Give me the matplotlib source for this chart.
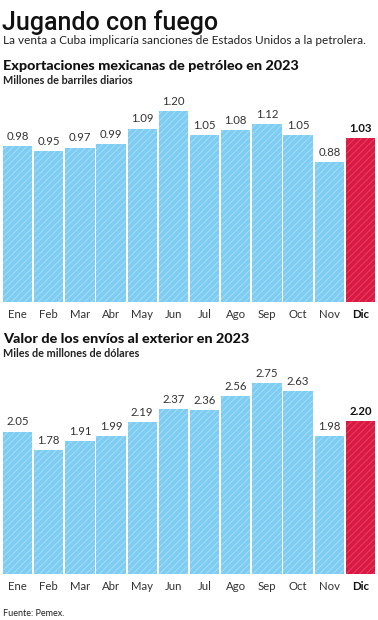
import matplotlib
matplotlib.use("Agg")
import matplotlib.pyplot as plt

months = ["Ene", "Feb", "Mar", "Abr", "May", "Jun", "Jul", "Ago", "Sep", "Oct", "Nov", "Dic"]
exports = [0.98, 0.95, 0.97, 0.99, 1.09, 1.20, 1.05, 1.08, 1.12, 1.05, 0.88, 1.03]
values = [2.05, 1.78, 1.91, 1.99, 2.19, 2.37, 2.36, 2.56, 2.75, 2.63, 1.98, 2.20]

title = "Jugando con fuego"
subtitle = "La venta a Cuba implicaría sanciones de Estados Unidos a la petrolera."
t1 = "Exportaciones mexicanas de petróleo en 2023"
s1 = "Millones de barriles diarios"
t2 = "Valor de los envíos al exterior en 2023"
s2 = "Miles de millones de dólares"
source = "Fuente: Pemex."

W, H = 378, 620
BLUE = "#7dccf2"
BLUE_H = "#9fdaf6"
RED = "#da1943"
RED_H = "#e33a5f"

plt.rcParams["font.family"] = ["Lato", "DejaVu Sans"]
plt.rcParams["hatch.linewidth"] = 0.9

fig = plt.figure(figsize=(W / 100, H / 100), dpi=100)
fig.patch.set_facecolor("white")

def px(x, y):
    return x / W, 1 - y / H

fig.text(*px(2, 30), title, fontsize=18, color="#111111", va="baseline",
         family=["Roboto", "DejaVu Sans"], fontweight="medium")
fig.text(*px(3, 44), subtitle, fontsize=8.5, color="#222222", va="baseline")
fig.text(*px(3, 70), t1, fontsize=10.4, fontweight="black", color="#111111", va="baseline")
fig.text(*px(3, 84), s1, fontsize=7.8, fontweight="bold", color="#222222", va="baseline")
fig.text(*px(3, 343), t2, fontsize=10.4, fontweight="black", color="#111111", va="baseline")
fig.text(*px(3, 357), s2, fontsize=7.8, fontweight="bold", color="#222222", va="baseline")
fig.text(*px(3, 616), source, fontsize=6.5, color="#222222", va="baseline")


def panel(data, y_base, y_top, vmax):
    l, b = px(1, y_base)
    _, t = px(1, y_top)
    ax = fig.add_axes([l, b, 376 / W, t - b])
    xs = list(range(len(data)))
    colors = [BLUE] * (len(data) - 1) + [RED]
    hcolors = [BLUE_H] * (len(data) - 1) + [RED_H]
    ax.bar(xs, data, width=0.94, color=colors, edgecolor=hcolors,
           linewidth=0, hatch="/////")
    ax.set_xlim(-0.53, len(data) - 0.47)
    ax.set_ylim(0, vmax)
    ax.axis("off")
    for i, v in enumerate(data):
        last = i == len(data) - 1
        ax.annotate(f"{v:.2f}", (i, v), xytext=(0, 3), textcoords="offset points",
                    ha="center", va="bottom", fontsize=8.2,
                    fontweight="bold" if last else "normal",
                    color="#111111" if last else "#333333", clip_on=False)
        ax.annotate(months[i], (i, 0), xytext=(0, -5), textcoords="offset points",
                    ha="center", va="top", fontsize=8.2,
                    fontweight="bold" if last else "normal",
                    color="#111111" if last else "#333333", clip_on=False)
    return ax

panel(exports, 302, 111, 1.20)
panel(values, 574, 383, 2.75)

fig.savefig("out.png", dpi=100, facecolor="white")
